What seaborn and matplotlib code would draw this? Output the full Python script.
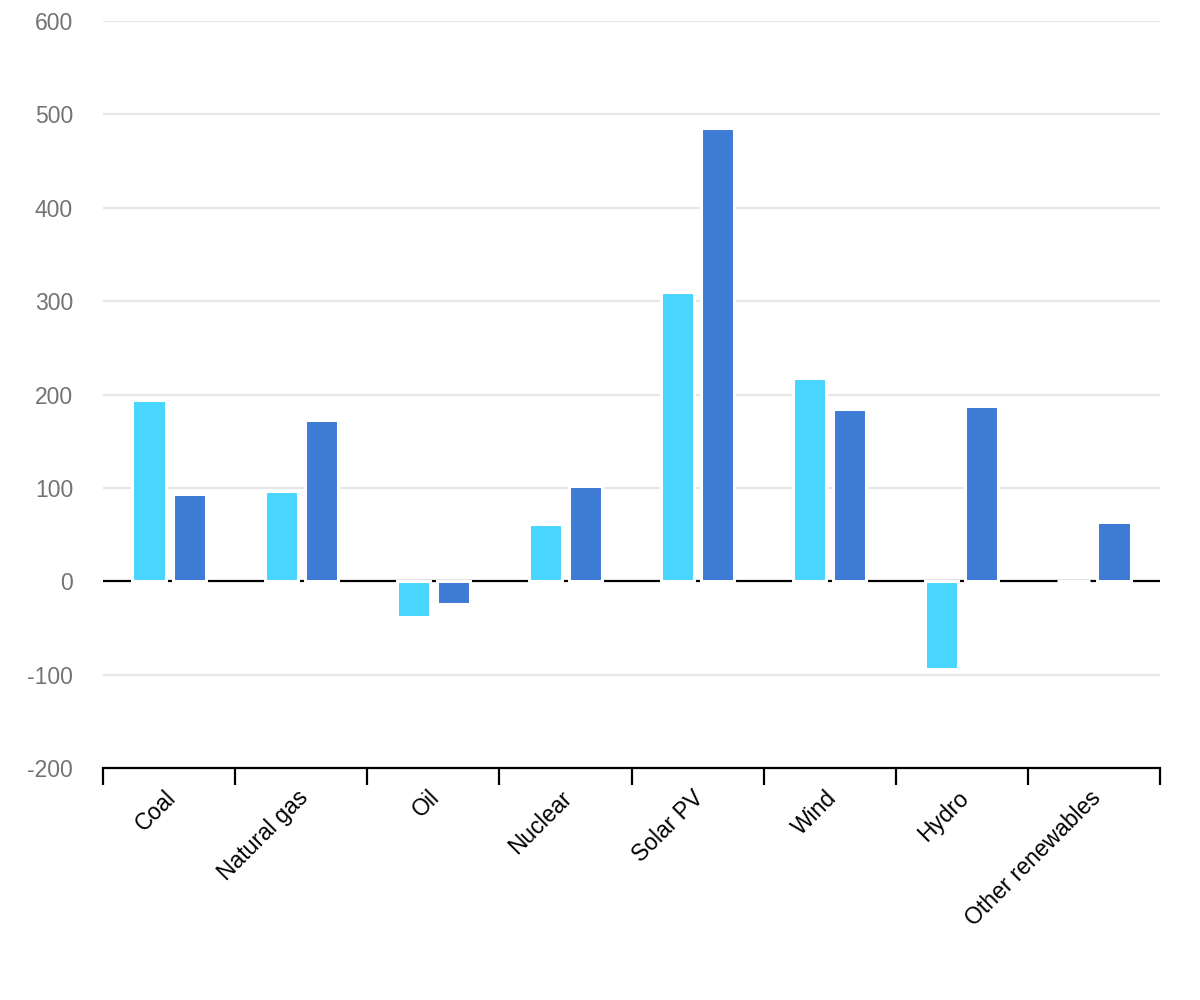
import matplotlib

matplotlib.use("Agg")
import matplotlib.pyplot as plt
import matplotlib.transforms as mtransforms
import pandas as pd
import seaborn as sns

categories = ["Coal", "Natural gas", "Oil", "Nuclear", "Solar PV", "Wind", "Hydro", "Other renewables"]
series_names = ["Series A", "Series B"]
series_a = [194, 97, -38, 61, 310, 218, -94, 0]
series_b = [93, 173, -24, 102, 485, 185, 188, 63]
y_ticks = [-200, -100, 0, 100, 200, 300, 400, 500, 600]

LIGHT = "#48d5fe"
DARK = "#3d7bd5"

df = pd.DataFrame(
    {
        "category": categories * 2,
        "series": [series_names[0]] * len(categories) + [series_names[1]] * len(categories),
        "value": series_a + series_b,
    }
)

sns.set_theme(style="white")
plt.rcParams["font.family"] = ["Liberation Sans", "DejaVu Sans"]

fig = plt.figure(figsize=(12, 10), dpi=100)
ax = fig.add_axes([0.0858, 0.232, 0.8809, 0.747])

sns.barplot(
    data=df, x="category", y="value", hue="series", order=categories,
    hue_order=series_names, palette=[LIGHT, DARK], width=0.606, gap=0.175,
    edgecolor="white", linewidth=2.2, saturation=1, legend=False, ax=ax, zorder=3,
)

ax.set_xlim(-0.5, len(categories) - 0.5)
ax.set_ylim(-200, 600)
ax.set_yticks(y_ticks)
ax.set_yticklabels([str(t) for t in y_ticks])
for t in y_ticks[1:]:
    if t != 0:
        ax.axhline(t, color="#e6e6e6", lw=1.6, zorder=1)
ax.axhline(0, color="black", lw=1.6, zorder=2)

for side in ("top", "right", "left"):
    ax.spines[side].set_visible(False)
ax.spines["bottom"].set_color("black")
ax.spines["bottom"].set_linewidth(1.6)

ax.tick_params(axis="y", left=False, length=0, pad=21.5, labelsize=16.5, labelcolor="#737373")
ax.set_xticks(range(len(categories)))
ax.set_xticks([i - 0.5 for i in range(len(categories) + 1)], minor=True)
ax.tick_params(axis="x", which="major", bottom=True, length=0, pad=13, labelsize=16.5, labelcolor="black")
ax.tick_params(axis="x", which="minor", bottom=True, length=12, width=1.6, color="black", direction="out")
offset = mtransforms.ScaledTranslation(-5 / 100, 0, fig.dpi_scale_trans)
for lab in ax.get_xticklabels():
    lab.set_rotation(45)
    lab.set_ha("right")
    lab.set_va("top")
    lab.set_rotation_mode("anchor")
    lab.set_transform(lab.get_transform() + offset)

ax.set_xlabel("")
ax.set_ylabel("")

fig.savefig("out.png", dpi=100)
